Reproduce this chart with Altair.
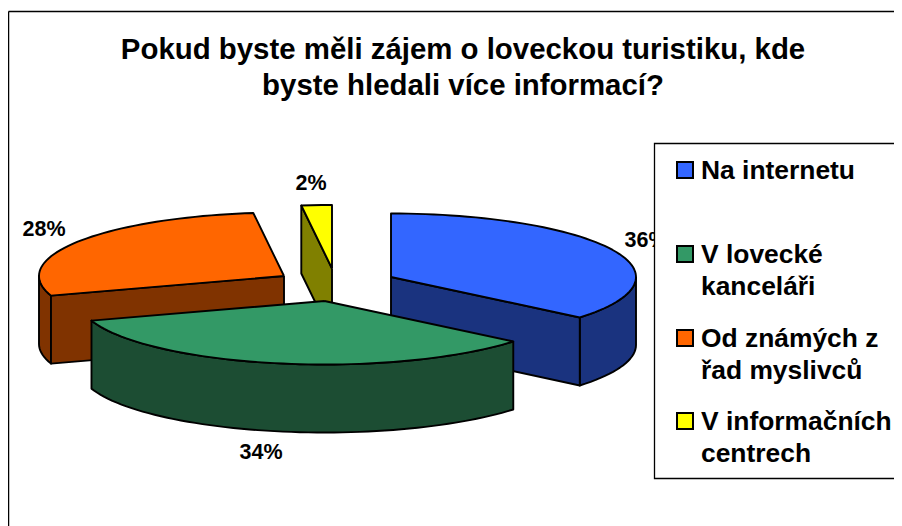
import math
import altair as alt
import pandas as pd

TITLE = ["Pokud byste měli zájem o loveckou turistiku, kde", "byste hledali více informací?"]
categories = ["Na internetu", "V lovecké kanceláři", "Od známých z řad myslivců", "V informačních centrech"]
values = [36, 34, 28, 2]
top_colors = ["#3366FF", "#339966", "#FF6600", "#FFFF00"]
side_colors = ["#1A337F", "#1C4D33", "#803300", "#808000"]
percent_labels = ["36%", "34%", "28%", "2%"]
legend_lines = [["Na internetu"], ["V lovecké", "kanceláři"], ["Od známých z", "řad myslivců"], ["V informačních", "centrech"]]

# layout (picture pixels)
FONT = "Liberation Sans"
W, H = 886, 518
centers = [(391, 277), (324.5, 301), (284, 276), (332, 268.5)]
RX, RY, DEPTH = 245, 63.5, 68
label_pos = [(646, 241), (261, 452.5), (44, 229.5), (311, 183.5)]

xs = alt.Scale(domain=[8, 8 + W], range=[0, W], nice=False, zero=False)
ys = alt.Scale(domain=[8 + H, 8], nice=False, zero=False)
X = lambda f="x": alt.X(f"{f}:Q", scale=xs, axis=None)
Y = lambda f="y": alt.Y(f"{f}:Q", scale=ys, axis=None)
fill_scale = alt.Scale(domain=categories, range=top_colors)

def rim(c, a0, a1, dy=0):
    n = max(2, int(abs(a1 - a0) / 2) + 1)
    return [(c[0] + RX * math.sin(math.radians(a0 + (a1 - a0) * i / (n - 1))),
             c[1] - RY * math.cos(math.radians(a0 + (a1 - a0) * i / (n - 1))) + dy) for i in range(n)]

def poly(points, color):
    pts = list(points) + [points[0]]
    df = pd.DataFrame({"x": [p[0] for p in pts], "y": [p[1] for p in pts], "i": range(len(pts))})
    return (alt.Chart(df).mark_line(stroke="black", strokeWidth=1.9, strokeJoin="round", fill=color, clip=False)
            .encode(x=X(), y=Y(), order="i:Q"))

bounds = [0]
for v in values:
    bounds.append(bounds[-1] + v * 3.6)
spans = list(zip(bounds[:-1], bounds[1:]))

def top(k):
    c = centers[k]
    return poly([c] + rim(c, *spans[k]), top_colors[k])

def cut(k, a):
    c = centers[k]
    e = rim(c, a, a)[0]
    return poly([c, e, (e[0], e[1] + DEPTH), (c[0], c[1] + DEPTH)], side_colors[k])

def outer(k, a0, a1):
    c = centers[k]
    return poly(rim(c, a0, a1) + rim(c, a0, a1, DEPTH)[::-1], side_colors[k])

layers = [
    outer(2, spans[2][0], 270), cut(2, spans[2][0]), top(2),
    cut(3, spans[3][0]), top(3),
    outer(0, 90, spans[0][1]), cut(0, spans[0][1]), top(0),
    outer(1, spans[1][0], spans[1][1]), top(1),
]

# percent labels
pct = pd.DataFrame({"x": [p[0] for p in label_pos], "y": [p[1] for p in label_pos], "t": percent_labels})
layers.append(alt.Chart(pct).mark_text(font=FONT, fontWeight="bold", fontSize=21.5, color="black", baseline="middle")
              .encode(x=X(), y=Y(), text="t:N"))

# frame
frame = pd.DataFrame({"x": [8.5, 8.5], "x2": [900, 8.5], "y": [11.5, 11.5], "y2": [11.5, 526]})
layers.append(alt.Chart(frame).mark_rule(color="black", strokeWidth=1.5)
              .encode(x=X(), x2="x2:Q", y=Y(), y2="y2:Q"))

# legend box
box = pd.DataFrame({"x": [654.5], "x2": [930], "y": [143.5], "y2": [478.5]})
layers.append(alt.Chart(box).mark_rect(fill="white", stroke="black", strokeWidth=1.3, clip=False)
              .encode(x=X(), x2="x2:Q", y=Y(), y2="y2:Q"))

row_y = [171, 255, 339, 422]
sw = pd.DataFrame({"x": [685] * 4, "y": [170, 254, 338, 421], "cat": categories})
layers.append(alt.Chart(sw).mark_square(size=256, stroke="black", strokeWidth=2, opacity=1)
              .encode(x=X(), y=Y(), fill=alt.Fill("cat:N", scale=fill_scale, legend=None)))

rows = []
for ry, lines in zip(row_y, legend_lines):
    for j, line in enumerate(lines):
        rows.append({"x": 701, "y": ry + j * 32, "t": line})
layers.append(alt.Chart(pd.DataFrame(rows)).mark_text(font=FONT, fontWeight="bold", fontSize=26.4, color="black",
                                                      align="left", baseline="middle")
              .encode(x=X(), y=Y(), text="t:N"))

chart = alt.layer(*layers).properties(
    width=W, height=H,
    padding=0,
    autosize=alt.AutoSizeParams(type="none"),
    background="white",
    title=alt.TitleParams(text=TITLE, font=FONT, fontWeight="bold", fontSize=29.4, lineHeight=36,
                          color="black", anchor="middle", dx=12, offset=0, dy=93),
).configure_view(stroke=None)

chart.save("out.html", embed_options={"renderer": "svg", "actions": False})
